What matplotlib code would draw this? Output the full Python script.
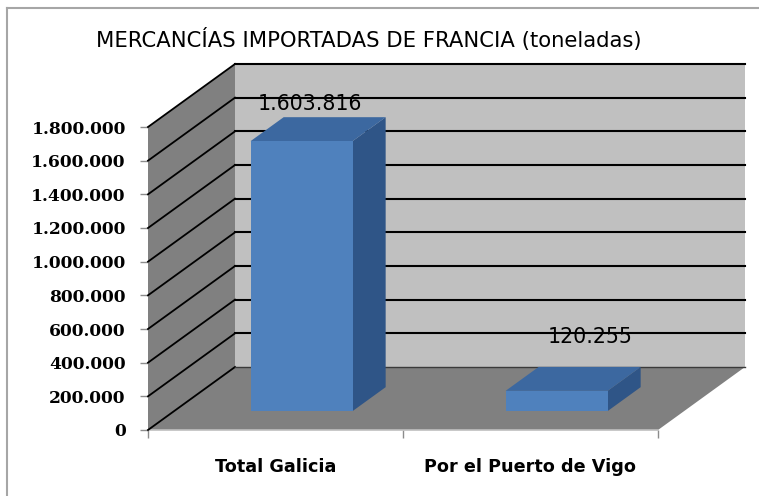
import numpy as np
import matplotlib
matplotlib.use("Agg")
import matplotlib.pyplot as plt
from matplotlib.patches import Polygon
from matplotlib.lines import Line2D
from matplotlib.ticker import FuncFormatter

# ---------------- data ----------------
title = "MERCANCÍAS IMPORTADAS DE FRANCIA (toneladas)"
categories = ["Total Galicia", "Por el Puerto de Vigo"]
values = [1603816, 120255]
value_labels = ["1.603.816", "120.255"]
y_ticks = [0, 200000, 400000, 600000, 800000, 1000000, 1200000, 1400000, 1600000, 1800000]
y_max = 1800000

# ---------------- style / layout ----------------
W, H = 759, 496
fig = plt.figure(figsize=(W / 100, H / 100), dpi=100)
ax = fig.add_axes([148 / W, (H - 430) / H, 510 / W, 303 / H])
ax.set_xlim(-0.5, len(categories) - 0.5)
ax.set_ylim(0, y_max)
ax.patch.set_visible(False)
for s in ax.spines.values():
    s.set_visible(False)

# depth offset of the full floor, in pixels -> converted to data units
depth_px = (87, 63)
ax_w_px, ax_h_px = 510, 303
DX = depth_px[0] * (len(categories)) / ax_w_px
DY = depth_px[1] * y_max / ax_h_px


def P(x, v, d):
    return (x + d * DX, v + d * DY)


x0, x1 = -0.5, len(categories) - 0.5
wall_dark = "#808080"
wall_light = "#C0C0C0"

# back wall
ax.add_patch(Polygon([P(x0, 0, 1), P(x1, 0, 1), P(x1, y_max, 1), P(x0, y_max, 1)],
                     closed=True, fc=wall_light, ec="none", clip_on=False, zorder=1))
# side wall
ax.add_patch(Polygon([P(x0, 0, 0), P(x0, y_max, 0), P(x0, y_max, 1), P(x0, 0, 1)],
                     closed=True, fc=wall_dark, ec="none", clip_on=False, zorder=1))
# floor
ax.add_patch(Polygon([P(x0, 0, 0), P(x1, 0, 0), P(x1, 0, 1), P(x0, 0, 1)],
                     closed=True, fc=wall_dark, ec="none", clip_on=False, zorder=1))
# floor front light edge
ax.plot([x0, x1], [0, 0], color="#BFBFBF", lw=1.2, clip_on=False, zorder=2)

# gridlines
for t in y_ticks:
    a, b = P(x0, t, 0), P(x0, t, 1)
    ax.plot([a[0], b[0]], [a[1], b[1]], color="black", lw=1.3, clip_on=False, zorder=2)
    c, d = P(x0, t, 1), P(x1, t, 1)
    col = "black" if t > 0 else "#3A3A3A"
    ax.plot([c[0], d[0]], [c[1], d[1]], color=col, lw=1.5 if t > 0 else 1.0,
            clip_on=False, zorder=2)

# bars
bar_w = 0.40
d_front, d_back = 0.30, 0.68
c_front, c_top, c_side = "#4F81BD", "#3C68A0", "#2F5587"
for i, v in enumerate(values):
    bx0, bx1 = i - bar_w / 2, i + bar_w / 2
    ax.add_patch(Polygon([P(bx1, 0, d_front), P(bx1, 0, d_back), P(bx1, v, d_back), P(bx1, v, d_front)],
                         closed=True, fc=c_side, ec="none", clip_on=False, zorder=3))
    ax.add_patch(Polygon([P(bx0, v, d_front), P(bx1, v, d_front), P(bx1, v, d_back), P(bx0, v, d_back)],
                         closed=True, fc=c_top, ec="none", clip_on=False, zorder=3))
    ax.add_patch(Polygon([P(bx0, 0, d_front), P(bx1, 0, d_front), P(bx1, v, d_front), P(bx0, v, d_front)],
                         closed=True, fc=c_front, ec="none", clip_on=False, zorder=4))

# data labels
label_offsets_px = [(-9, 25), (16, 41)]
for i, (v, lab) in enumerate(zip(values, value_labels)):
    ax.annotate(lab, xy=P(i, v, 0.5), xytext=label_offsets_px[i], textcoords="offset pixels",
                ha="center", va="center", fontsize=14.8, family="DejaVu Sans",
                color="black", zorder=6, annotation_clip=False)

# axes ticks
ax.set_yticks(y_ticks)
ax.yaxis.set_major_formatter(FuncFormatter(lambda v, p: f"{int(v):,}".replace(",", ".")))
ax.tick_params(axis="y", length=6, width=1, color="#8C8C8C", pad=10)
for lbl in ax.get_yticklabels():
    lbl.set_fontfamily("DejaVu Serif")
    lbl.set_fontweight("bold")
    lbl.set_fontsize(12.3)

ax.set_xticks(range(len(categories)))
ax.set_xticklabels(categories, fontsize=12.7, fontweight="bold", family="DejaVu Sans")
ax.set_xticks(np.arange(-0.5, len(categories), 1.0), minor=True)
ax.tick_params(axis="x", which="major", length=0, pad=20)
ax.tick_params(axis="x", which="minor", length=6, width=1, color="#8C8C8C")

# title
fig.text(369 / W, 1 - 40 / H, title, ha="center", va="center", fontsize=15.2,
         family="DejaVu Sans", color="black")

# outer frame (only top and left edges are visible in the reference)
fx, fy = 7 / W, 1 - 8 / H
fig.add_artist(Line2D([fx, 1.0], [fy, fy], transform=fig.transFigure, color="#A6A6A6", lw=1.5))
fig.add_artist(Line2D([fx, fx], [0.0, fy], transform=fig.transFigure, color="#A6A6A6", lw=1.5))

fig.savefig("out.png", dpi=100)
